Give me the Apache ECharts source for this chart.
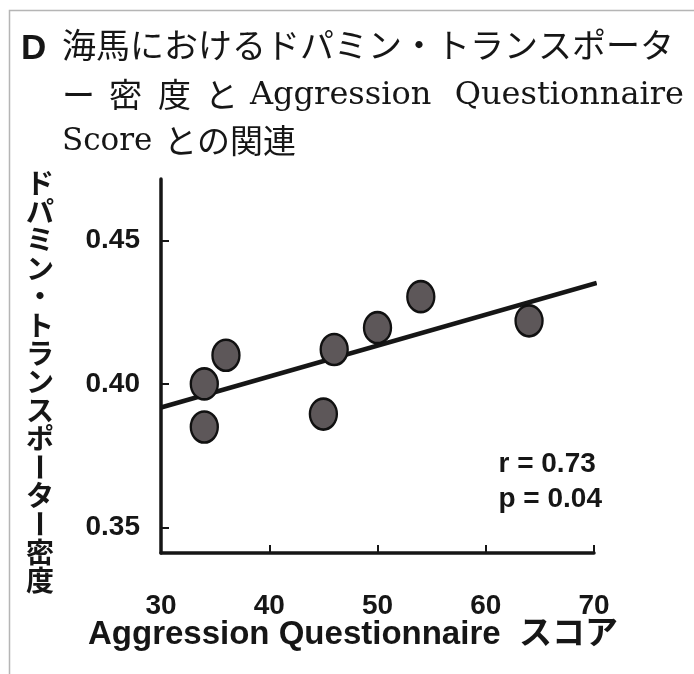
<!DOCTYPE html>
<html>
<head>
<meta charset="utf-8">
<script src="https://cdn.jsdelivr.net/npm/echarts@6/dist/echarts.min.js"></script>
<style>
html, body { margin: 0; padding: 0; background: #fff; }
#main { width: 694px; height: 674px; }
</style>
</head>
<body>
<div id="main"></div>
<script>
var myChart = echarts.init(document.getElementById('main'));

// data
var scoreX = [34, 34, 36, 45, 46, 50, 54, 64];
var densityY = [0.400, 0.385, 0.410, 0.3895, 0.412, 0.4196, 0.4304, 0.422];
var fitX = [30, 70.25];
var fitY = [0.3918, 0.4352];
var yTicks = [0.35, 0.40, 0.45];
var xTicks = [30, 40, 50, 60, 70];
var yName = 'ドパミン・トランスポーター密度';
var xName = 'Aggression Questionnaire  スコア';

var points = scoreX.map(function (x, i) { return [x, densityY[i]]; });
var fitLine = fitX.map(function (x, i) { return [x, fitY[i]]; });

var sans = '"Liberation Sans", Arial, "Noto Sans CJK JP", sans-serif';
var serif = '"DejaVu Serif", "Noto Sans CJK JP", serif';
var ink = '#161616';

// vertical y name, one char per element; the long vowel mark is turned upright
var yNameChars = yName.split('').map(function (c, i) {
    return {
        type: 'text',
        x: 40,
        y: 183 + i * 28.4,
        rotation: c === 'ー' ? -Math.PI / 2 : 0,
        style: {
            text: c,
            font: 'bold 28px "Noto Sans CJK JP", sans-serif',
            align: 'center',
            verticalAlign: 'middle',
            fill: ink
        }
    };
});

option = {
    backgroundColor: '#fff',
    animation: false,
    grid: { left: 161, right: 100, top: 179, bottom: 121 },
    xAxis: {
        type: 'value',
        min: 30,
        max: 70,
        interval: 10,
        axisLine: { lineStyle: { color: ink, width: 3.5 } },
        axisTick: {
            inside: true, length: 8,
            lineStyle: { color: ink, width: 2 }
        },
        axisLabel: {
            margin: 39,
            color: ink,
            fontSize: 28,
            fontWeight: 'bold',
            fontFamily: sans,
            customValues: xTicks
        },
        splitLine: { show: false }
    },
    yAxis: {
        type: 'value',
        min: 0.3411,
        max: 0.4714,
        axisLine: { show: true, lineStyle: { color: ink, width: 3.5 } },
        axisTick: {
            show: true, inside: true, length: 8,
            customValues: yTicks,
            lineStyle: { color: ink, width: 2 }
        },
        axisLabel: {
            margin: 21,
            color: ink,
            fontSize: 28,
            fontWeight: 'bold',
            fontFamily: sans,
            customValues: yTicks,
            formatter: function (v) { return v.toFixed(2); }
        },
        splitLine: { show: false }
    },
    graphic: [
        {
            type: 'rect', left: 7, top: 8, silent: true,
            shape: { width: 720, height: 720 },
            style: { fill: 'none', stroke: '#b5b5b5', lineWidth: 1.5 }
        },
        {
            type: 'text', left: 21, top: 32,
            style: { text: 'D', font: 'bold 35px ' + sans, fill: ink }
        },
        {
            type: 'text', left: 62, top: 32,
            style: { text: '海馬におけるドパミン・トランスポータ', font: '34px ' + serif, fill: ink }
        },
        { type: 'text', left: 62, top: 82, style: { text: 'ー', font: '33px ' + serif, fill: ink } },
        { type: 'text', left: 109, top: 82, style: { text: '密', font: '33px ' + serif, fill: ink } },
        { type: 'text', left: 158, top: 82, style: { text: '度', font: '33px ' + serif, fill: ink } },
        { type: 'text', left: 205, top: 82, style: { text: 'と', font: '33px ' + serif, fill: ink } },
        { type: 'text', left: 250, top: 80, style: { text: 'Aggression', font: '32px ' + serif, fill: ink } },
        { type: 'text', right: 10, top: 80, style: { text: 'Questionnaire', font: '32px ' + serif, fill: ink } },
        { type: 'text', left: 62, top: 126, style: { text: 'Score', font: '31px ' + serif, fill: ink } },
        { type: 'text', left: 164, top: 128, style: { text: 'との関連', font: '33px ' + serif, fill: ink } },
        {
            type: 'text', left: 88, top: 618,
            style: { text: xName, font: 'bold 33px ' + sans, fill: ink }
        },
        {
            type: 'text', right: 92, top: 447,
            style: {
                text: 'r = 0.73\np = 0.04',
                font: 'bold 28px ' + sans,
                lineHeight: 35,
                align: 'right',
                fill: ink
            }
        }
    ].concat(yNameChars),
    series: [
        {
            type: 'line',
            data: fitLine,
            clip: false,
            symbol: 'none',
            lineStyle: { color: ink, width: 4.5 },
            z: 2
        },
        {
            type: 'scatter',
            data: points,
            symbol: 'circle',
            symbolSize: [27, 31],
            itemStyle: { color: '#5d5759', borderColor: '#111', borderWidth: 2.5, opacity: 1 },
            z: 3
        }
    ]
};
myChart.setOption(option);
</script>
</body>
</html>
